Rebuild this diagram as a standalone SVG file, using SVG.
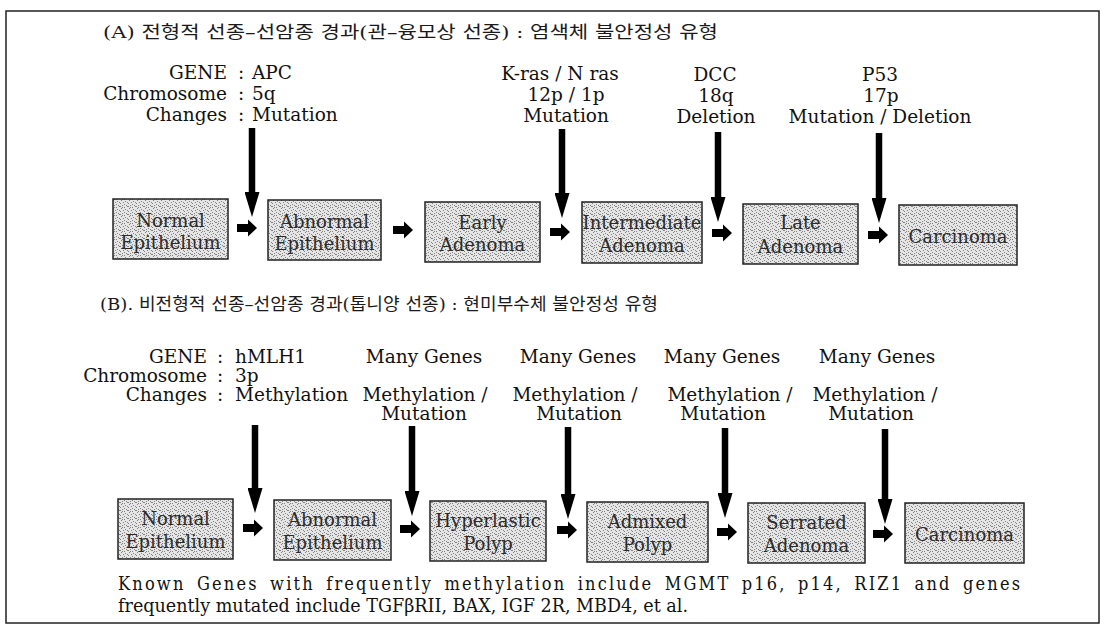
<svg xmlns="http://www.w3.org/2000/svg" xmlns:xlink="http://www.w3.org/1999/xlink" width="1109" height="638" viewBox="0 0 1109 638">
<style>
  .t { font-family: "DejaVu Serif", "Noto Sans CJK KR", serif; font-size: 18.5px; fill: #111; }
  .m { text-anchor: middle; }
  .r { text-anchor: end; }
  .ttl { font-family: "DejaVu Serif", "Noto Sans CJK KR", serif; font-size: 17px; fill: #1a1a1a; }
  .box { fill: url(#stip); stroke: #222; stroke-width: 1.5; }
  .bt { font-family: "DejaVu Serif", serif; font-size: 18px; fill: #2a2a2a; text-anchor: middle; }
  .va { stroke: #000; stroke-width: 6.5; fill: none; marker-end: url(#vhead); }
  .foot { font-family: "DejaVu Serif Condensed", "DejaVu Serif", serif; font-stretch: condensed; font-size: 18px; fill: #111; }
</style>
<defs>
  <pattern id="stip" width="8" height="8" patternUnits="userSpaceOnUse">
    <rect width="8" height="8" fill="#e6e6e6"/>
    <rect x="1" y="0" width="1" height="1" fill="#808080"/>
    <rect x="5" y="1" width="1" height="1" fill="#808080"/>
    <rect x="3" y="2" width="1" height="1" fill="#808080"/>
    <rect x="7" y="2" width="1" height="1" fill="#808080"/>
    <rect x="0" y="3" width="1" height="1" fill="#808080"/>
    <rect x="4" y="4" width="1" height="1" fill="#808080"/>
    <rect x="2" y="5" width="1" height="1" fill="#808080"/>
    <rect x="6" y="5" width="1" height="1" fill="#808080"/>
    <rect x="0" y="6" width="1" height="1" fill="#808080"/>
    <rect x="4" y="7" width="1" height="1" fill="#808080"/>
    <rect x="7" y="6" width="1" height="1" fill="#808080"/>
    <rect x="2" y="7" width="1" height="1" fill="#808080"/>
  </pattern>
  <marker id="vhead" markerUnits="userSpaceOnUse" markerWidth="25" markerHeight="15" viewBox="0 0 25 15" refX="3" refY="7.5" orient="auto">
    <path d="M0,0 L25,7.5 L0,15 Z" fill="#000"/>
  </marker>
  <path id="ha" d="M0,-4 H11 V-8.5 L20,0 L11,8.5 V4 H0 Z" fill="#000"/>
</defs>

<rect x="6" y="11" width="1093" height="612" fill="#fff" stroke="#222" stroke-width="1.5"/>

<!-- Section A header texts -->
<g id="titleA">
  <text class="ttl" x="103" y="38" textLength="615" lengthAdjust="spacingAndGlyphs">(A) 전형적 선종–선암종 경과(관–융모상 선종) : 염색체 불안정성 유형</text>
</g>
<g id="labelsA">
  <text class="t r" x="227" y="79">GENE</text>
  <text class="t m" x="241" y="79">:</text>
  <text class="t" x="252" y="79">APC</text>
  <text class="t r" x="227" y="100">Chromosome</text>
  <text class="t m" x="241" y="100">:</text>
  <text class="t" x="252" y="100">5q</text>
  <text class="t r" x="227" y="121">Changes</text>
  <text class="t m" x="241" y="121">:</text>
  <text class="t" x="252" y="121">Mutation</text>
</g>
<g id="geneA2">
  <text class="t m" x="560" y="80">K-ras / N ras</text>
  <text class="t m" x="566" y="101">12p / 1p</text>
  <text class="t m" x="566" y="122">Mutation</text>
</g>
<g id="geneA3">
  <text class="t m" x="715" y="81">DCC</text>
  <text class="t m" x="716" y="102">18q</text>
  <text class="t m" x="716" y="123">Deletion</text>
</g>
<g id="geneA4">
  <text class="t m" x="880" y="81">P53</text>
  <text class="t m" x="881" y="102">17p</text>
  <text class="t m" x="880" y="123">Mutation / Deletion</text>
</g>

<!-- Section A nodes -->
<g id="a1"><rect class="box" x="113" y="199" width="115" height="60"/>
  <text class="bt" x="170.5" y="227">Normal</text><text class="bt" x="170.5" y="249">Epithelium</text></g>
<g id="a2"><rect class="box" x="268" y="200" width="113" height="60"/>
  <text class="bt" x="324.5" y="228">Abnormal</text><text class="bt" x="324.5" y="250">Epithelium</text></g>
<g id="a3"><rect class="box" x="425" y="202" width="115" height="60"/>
  <text class="bt" x="482.5" y="229">Early</text><text class="bt" x="482.5" y="251">Adenoma</text></g>
<g id="a4"><rect class="box" x="582" y="202" width="120" height="61"/>
  <text class="bt" x="642" y="229">Intermediate</text><text class="bt" x="642" y="252">Adenoma</text></g>
<g id="a5"><rect class="box" x="743" y="204" width="115" height="60"/>
  <text class="bt" x="800.5" y="229">Late</text><text class="bt" x="800.5" y="253">Adenoma</text></g>
<g id="a6"><rect class="box" x="899" y="205" width="118" height="60"/>
  <text class="bt" x="958" y="243">Carcinoma</text></g>

<!-- Section B header texts -->
<g id="titleB">
  <text class="ttl" x="100" y="310" textLength="558" lengthAdjust="spacingAndGlyphs">(B). 비전형적 선종–선암종 경과(톱니양 선종) : 현미부수체 불안정성 유형</text>
</g>
<g id="labelsB">
  <text class="t r" x="207" y="363">GENE</text>
  <text class="t m" x="220" y="363">:</text>
  <text class="t" x="235" y="363">hMLH1</text>
  <text class="t r" x="207" y="382">Chromosome</text>
  <text class="t m" x="220" y="382">:</text>
  <text class="t" x="235" y="382">3p</text>
  <text class="t r" x="207" y="401">Changes</text>
  <text class="t m" x="220" y="401">:</text>
  <text class="t" x="235" y="401">Methylation</text>
</g>
<g id="geneB2">
  <text class="t m" x="424" y="363">Many Genes</text>
  <text class="t m" x="425" y="401">Methylation /</text>
  <text class="t m" x="424" y="420">Mutation</text>
</g>
<g id="geneB3">
  <text class="t m" x="578" y="363">Many Genes</text>
  <text class="t m" x="575" y="401">Methylation /</text>
  <text class="t m" x="579" y="420">Mutation</text>
</g>
<g id="geneB4">
  <text class="t m" x="722" y="363">Many Genes</text>
  <text class="t m" x="730" y="401">Methylation /</text>
  <text class="t m" x="723" y="420">Mutation</text>
</g>
<g id="geneB5">
  <text class="t m" x="877" y="363">Many Genes</text>
  <text class="t m" x="875" y="401">Methylation /</text>
  <text class="t m" x="871" y="420">Mutation</text>
</g>

<!-- Section B nodes -->
<g id="b1"><rect class="box" x="118" y="499" width="115" height="60"/>
  <text class="bt" x="175.5" y="525">Normal</text><text class="bt" x="175.5" y="548">Epithelium</text></g>
<g id="b2"><rect class="box" x="274" y="500" width="117" height="60"/>
  <text class="bt" x="332.5" y="526">Abnormal</text><text class="bt" x="332.5" y="549">Epithelium</text></g>
<g id="b3"><rect class="box" x="430" y="501" width="116" height="60"/>
  <text class="bt" x="488" y="527">Hyperlastic</text><text class="bt" x="488" y="550">Polyp</text></g>
<g id="b4"><rect class="box" x="587" y="502" width="121" height="60"/>
  <text class="bt" x="647.5" y="528">Admixed</text><text class="bt" x="647.5" y="551">Polyp</text></g>
<g id="b5"><rect class="box" x="748" y="503" width="117" height="60"/>
  <text class="bt" x="806.5" y="529">Serrated</text><text class="bt" x="806.5" y="552">Adenoma</text></g>
<g id="b6"><rect class="box" x="905" y="503" width="119" height="60"/>
  <text class="bt" x="964.5" y="541">Carcinoma</text></g>

<!-- Connectors -->
<g id="connectors">
  <line class="va" x1="252" y1="128" x2="252" y2="195"/>
  <line class="va" x1="562" y1="129" x2="562" y2="196"/>
  <line class="va" x1="718" y1="132" x2="718" y2="200"/>
  <line class="va" x1="879" y1="133" x2="879" y2="201"/>
  <use xlink:href="#ha" x="237" y="228"/>
  <use xlink:href="#ha" x="393" y="230"/>
  <use xlink:href="#ha" x="550" y="232"/>
  <use xlink:href="#ha" x="712" y="233"/>
  <use xlink:href="#ha" x="868" y="235"/>

  <line class="va" x1="255" y1="425" x2="255" y2="491"/>
  <line class="va" x1="412" y1="426" x2="412" y2="494"/>
  <line class="va" x1="568" y1="427" x2="568" y2="497"/>
  <line class="va" x1="725" y1="428" x2="725" y2="496"/>
  <line class="va" x1="885" y1="429" x2="885" y2="502"/>
  <use xlink:href="#ha" x="243" y="528"/>
  <use xlink:href="#ha" x="400" y="529"/>
  <use xlink:href="#ha" x="557" y="530"/>
  <use xlink:href="#ha" x="717" y="532"/>
  <use xlink:href="#ha" x="873" y="534"/>
</g>

<g id="footnote">
  <text class="foot" x="118" y="590" word-spacing="4" textLength="902" lengthAdjust="spacing">Known Genes with frequently methylation include MGMT p16, p14, RIZ1 and genes</text>
  <text class="foot" x="118" y="612" textLength="570" lengthAdjust="spacingAndGlyphs">frequently mutated include TGFβRII, BAX, IGF 2R, MBD4, et al.</text>
</g>
</svg>
